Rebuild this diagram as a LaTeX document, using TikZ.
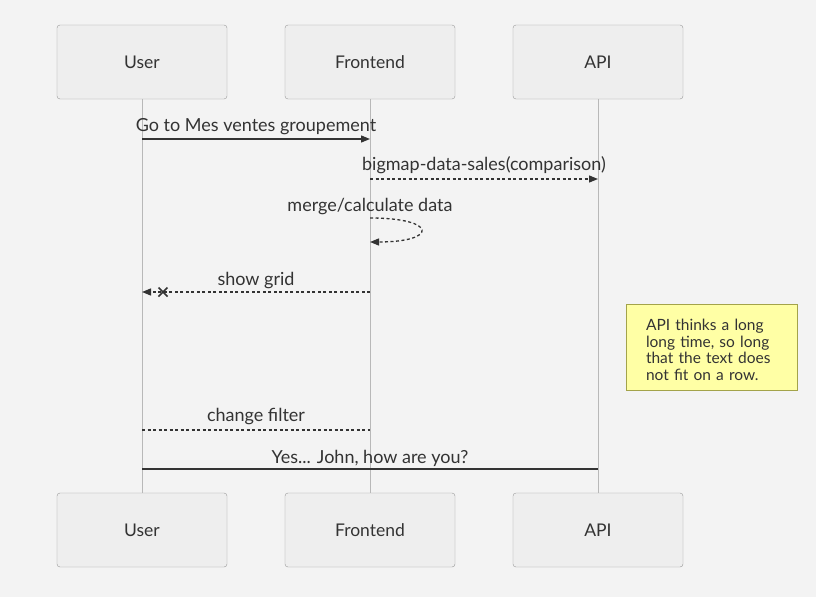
\documentclass[tikz,border=0pt]{standalone}
\usepackage{fontspec}
\setmainfont{Lato}
\usetikzlibrary{arrows.meta}
\definecolor{bgcol}{HTML}{F3F3F3}
\definecolor{boxcol}{HTML}{EEEEEE}
\definecolor{boxline}{HTML}{999999}
\definecolor{inkcol}{HTML}{333333}
\definecolor{notecol}{HTML}{FFFFA5}
\definecolor{noteline}{HTML}{A3A34A}

\begin{document}
\begin{tikzpicture}[x=1pt,y=-1pt,>={Triangle[length=9pt,width=7pt]},
  actor/.style={draw=boxline,fill=boxcol,rounded corners=3pt,minimum width=170pt,minimum height=74pt,text=inkcol,font=\fontsize{17.5}{21}\selectfont},
  life/.style={draw=boxline!70,line width=0.8pt},
  msg/.style={draw=inkcol,line width=1.3pt},
  reply/.style={msg,dash pattern=on 3pt off 2.5pt},
  label/.style={text=inkcol,font=\fontsize{18}{21}\selectfont,inner sep=0pt}]
  \fill[bgcol] (0,0) rectangle (816,597);

  \node[actor] (userT) at (142,62) {User};
  \node[actor] (frontT) at (370,62) {Frontend};
  \node[actor] (apiT) at (598,62) {API};
  \node[actor] (userB) at (142,530) {User};
  \node[actor] (frontB) at (370,530) {Frontend};
  \node[actor] (apiB) at (598,530) {API};

  \draw[life] (userT) -- (userB);
  \draw[life] (frontT) -- (frontB);
  \draw[life] (apiT) -- (apiB);

  % message points on the lifelines
  \coordinate (u1) at (142,139);
  \coordinate (f1) at (370,139);
  \coordinate (f2) at (370,179);
  \coordinate (a2) at (598,179);
  \coordinate (f3) at (370,218);
  \coordinate (f3b) at (370,242);
  \coordinate (f4) at (370,292);
  \coordinate (u4) at (142,292);
  \coordinate (x4) at (163,292);
  \coordinate (u5) at (142,430);
  \coordinate (f5) at (370,430);
  \coordinate (u6) at (142,469);
  \coordinate (a6) at (598,469);

  \draw[msg,->] (u1) -- (f1);
  \node[label] (m1) at (256,127) {Go to Mes ventes groupement};
  \draw[reply,->] (f2) -- (a2);
  \node[label] (m2) at (484,165) {bigmap-data-sales(comparison)};
  \draw[reply,->] (f3) .. controls (438,218) and (438,242) .. (f3b);
  \node[label] (m3) at (370,207) {merge/calculate data};
  \draw[reply,->] (f4) -- (u4);
  \draw[msg,line width=1.5pt] ([shift={(-4.5,-4.5)}]x4) -- ([shift={(4.5,4.5)}]x4)
             ([shift={(-4.5,4.5)}]x4) -- ([shift={(4.5,-4.5)}]x4);
  \node[label] (m4) at (256,281) {show grid};
  \draw[reply] (u5) -- (f5);
  \node[label] (m5) at (256,417) {change filter};
  \draw[msg] (u6) -- (a6);
  \node[label] (m6) at (370,458) {Yes... John, how are you?};

  % note
  \node[draw=noteline,fill=notecol,line width=1pt,minimum width=171pt,minimum height=86pt] (note) at (711.5,347) {};
  \node[text=inkcol,font=\fontsize{15.5}{16.5}\selectfont,align=left,text width=133pt,inner sep=0pt]
        (notetext) at (712.5,350) {API thinks a long\\long time, so long\\that the text does\\not fit on a row.};
\end{tikzpicture}
\end{document}
